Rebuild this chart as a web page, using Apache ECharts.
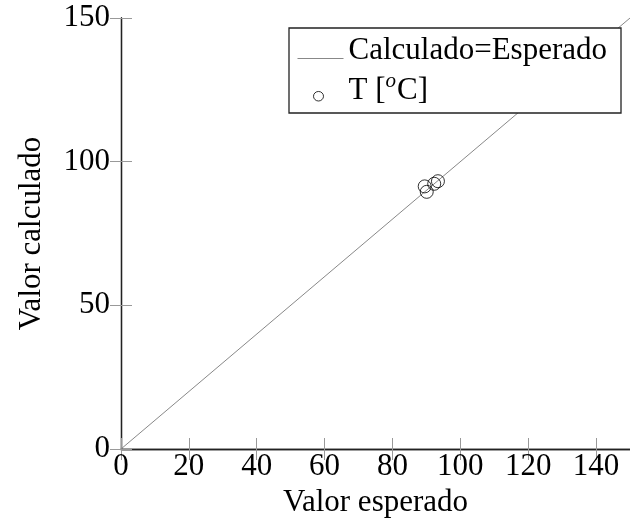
<!DOCTYPE html>
<html>
<head>
<meta charset="utf-8">
<script src="https://cdn.jsdelivr.net/npm/echarts@6/dist/echarts.min.js"></script>
<style>html,body{margin:0;padding:0;background:#fff;}#c{width:630px;height:529px;}</style>
</head>
<body>
<div id="c"></div>
<script>
// Data
var lineX = [0, 150];
var lineY = [0, 150];
var expected = [89.5, 90.1, 92.3, 93.4];
var calculated = [91.4, 89.5, 92.3, 93.2];
var xTicks = { min: 0, max: 150, interval: 20 };
var yTicks = { min: 0, max: 150, interval: 50 };
var lineName = 'Calculado=Esperado';
var ptName = 'T [oC]';

var FONT = 'Liberation Serif';
var FS = 31;
var chart = echarts.init(document.getElementById('c'), null, { renderer: 'canvas' });

function axisCommon(extra) {
  var base = {
    type: 'value',
    axisLine: { show: true, lineStyle: { color: '#222', width: 1.3 } },
    axisTick: { show: true, inside: true, length: 11, lineStyle: { color: '#999', width: 1 } },
    splitLine: { show: false },
    axisLabel: { color: '#000', fontFamily: FONT, fontSize: FS }
  };
  for (var k in extra) base[k] = extra[k];
  return base;
}

var option = {
  backgroundColor: '#fff',
  animation: false,
  grid: { left: 121, top: 18, width: 518, height: 431, containLabel: false },
  xAxis: [
    axisCommon({
      position: 'bottom', min: xTicks.min, max: xTicks.max, interval: xTicks.interval,
      name: 'Valor esperado', nameLocation: 'middle', nameGap: 36,
      nameTextStyle: { color: '#000', fontFamily: FONT, fontSize: FS },
      axisLabel: { color: '#000', fontFamily: FONT, fontSize: FS, margin: 2, showMaxLabel: false,
        formatter: function (v) { return v % 20 === 0 ? String(v) : ''; } }
    }),
    axisCommon({
      position: 'top', min: xTicks.min, max: xTicks.max, interval: xTicks.interval,
      axisLabel: { show: false }
    })
  ],
  yAxis: [
    axisCommon({
      position: 'left', min: yTicks.min, max: yTicks.max, interval: yTicks.interval,
      name: 'Valor calculado', nameLocation: 'middle', nameGap: 74,
      nameTextStyle: { color: '#000', fontFamily: FONT, fontSize: FS },
      axisLabel: { color: '#000', fontFamily: FONT, fontSize: FS, margin: 11 }
    }),
    axisCommon({
      position: 'right', min: yTicks.min, max: yTicks.max, interval: yTicks.interval,
      axisLabel: { show: false }
    })
  ],
  legend: {
    orient: 'vertical',
    left: 289, top: 28,
    padding: [3, 14, 2, 8],
    itemGap: 0,
    itemWidth: 46, itemHeight: 20,
    symbolKeepAspect: false,
    backgroundColor: '#fff',
    borderColor: '#222', borderWidth: 1.3, borderRadius: 0,
    data: [
      { name: lineName,
        icon: 'path://M0,0 M46,20 M0,17 L46,17 L46,18 L0,18 Z',
        itemStyle: { color: '#888', borderColor: '#888', borderWidth: 0 } },
      { name: ptName,
        icon: 'path://M0,0 M46,20 M16,16 A5,5 0 1,0 26,16 A5,5 0 1,0 16,16 Z',
        itemStyle: { color: '#fff', borderColor: '#000', borderWidth: 1 } }
    ],
    formatter: function (name) {
      if (name === ptName) return 'T [{sup|o}C]';
      return name;
    },
    textStyle: {
      color: '#000', fontFamily: FONT, fontSize: FS, lineHeight: 40,
      rich: {
        sup: { fontFamily: FONT, fontStyle: 'italic', fontSize: 21, verticalAlign: 'top', lineHeight: 24, padding: [0, 1, 0, 0] }
      }
    }
  },
  series: [
    {
      name: lineName, type: 'line', xAxisIndex: 0, yAxisIndex: 0,
      data: lineX.map(function (x, i) { return [x, lineY[i]]; }),
      symbol: 'none', showSymbol: false,
      lineStyle: { color: '#888', width: 1 },
      itemStyle: { color: '#888' },
      z: 2
    },
    {
      name: ptName, type: 'scatter', xAxisIndex: 0, yAxisIndex: 0,
      data: expected.map(function (x, i) { return [x, calculated[i]]; }),
      symbol: 'circle', symbolSize: 13,
      itemStyle: { color: 'rgba(255,255,255,0)', borderColor: '#000', borderWidth: 1 },
      z: 3
    }
  ]
};
chart.setOption(option);
</script>
</body>
</html>
